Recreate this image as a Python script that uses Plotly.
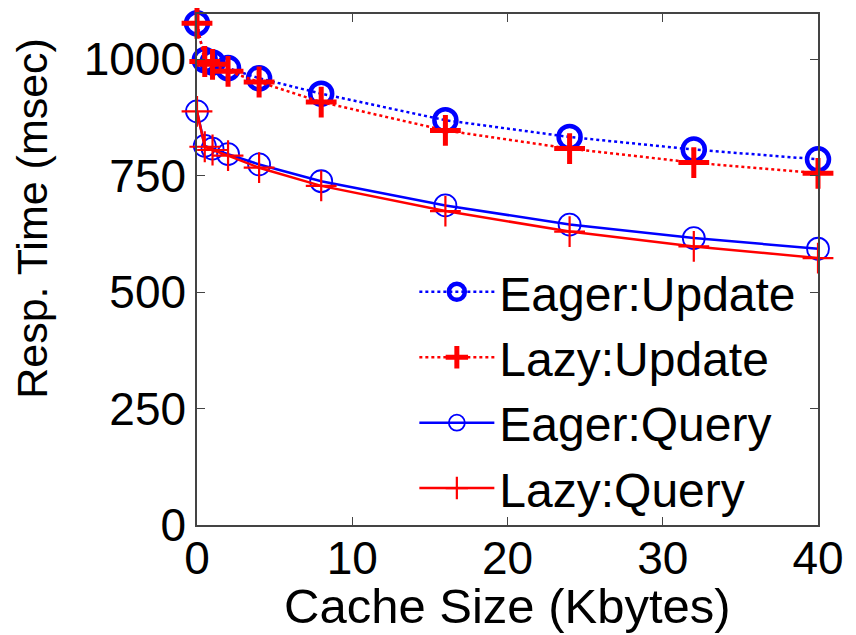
import plotly.graph_objects as go

cache_kb = [0, 0.5, 1, 2, 4, 8, 16, 24, 32, 40]
eager_update = [1077, 998, 993, 981, 959, 926, 869, 833, 806, 785]
lazy_update = [1077, 995, 989, 974, 951, 908, 847, 808, 778, 755]
eager_query = [888, 814, 808, 796, 774, 738, 686, 645, 616, 593]
lazy_query = [888, 812, 805, 793, 767, 728, 674, 630, 598, 573]

x_ticks = [0, 10, 20, 30, 40]
y_ticks = [0, 250, 500, 750, 1000]

BLUE = "rgb(0,0,255)"
RED = "rgb(255,0,0)"
FONT = "Liberation Sans, Arial, sans-serif"

fig = go.Figure()
fig.add_trace(go.Scatter(
    x=cache_kb, y=eager_update, name="Eager:Update", mode="lines+markers", cliponaxis=False,
    line=dict(color=BLUE, width=2.5, dash="dot"),
    marker=dict(symbol="circle-open", size=22, color=BLUE, line=dict(width=4.5, color=BLUE)),
))
fig.add_trace(go.Scatter(
    x=cache_kb, y=lazy_update, name="Lazy:Update", mode="lines+markers", cliponaxis=False,
    line=dict(color=RED, width=2.5, dash="dot"),
    marker=dict(symbol="cross-thin-open", size=22, color=RED, line=dict(width=5, color=RED)),
))
fig.add_trace(go.Scatter(
    x=cache_kb, y=eager_query, name="Eager:Query", mode="lines+markers", cliponaxis=False,
    line=dict(color=BLUE, width=2.5),
    marker=dict(symbol="circle-open", size=22, color=BLUE, line=dict(width=1.8, color=BLUE)),
))
fig.add_trace(go.Scatter(
    x=cache_kb, y=lazy_query, name="Lazy:Query", mode="lines+markers", cliponaxis=False,
    line=dict(color=RED, width=2.5),
    marker=dict(symbol="cross-thin-open", size=22, color=RED, line=dict(width=2.2, color=RED)),
))

axis_common = dict(
    showline=True, linecolor="#444", linewidth=1.5, mirror="ticks",
    ticks="inside", ticklen=8, tickcolor="#444", showgrid=False, zeroline=False,
    tickfont=dict(family=FONT, size=46, color="black"),
)

fig.update_layout(
    width=856, height=635,
    margin=dict(l=197, r=30, t=12, b=110),
    paper_bgcolor="white", plot_bgcolor="white",
    font=dict(family=FONT, color="black"),
    xaxis=dict(range=[0, 40], tickvals=x_ticks, ticktext=[str(v) for v in x_ticks],
               ticklabelstandoff=-8, **axis_common),
    yaxis=dict(range=[0, 1097], tickvals=y_ticks, ticktext=[str(v) for v in y_ticks],
               **axis_common),
    legend=dict(x=0.35, y=0.53, xanchor="left", yanchor="top",
                bgcolor="rgba(0,0,0,0)", borderwidth=0,
                font=dict(family=FONT, size=48, color="black"),
                itemwidth=75, tracegroupgap=0),
    showlegend=True,
    annotations=[
        dict(text="Cache Size (Kbytes)", xref="paper", yref="paper",
             x=0.5, y=-0.158, xanchor="center", yanchor="middle", showarrow=False,
             font=dict(family=FONT, size=49, color="black")),
        dict(text="Resp. Time (msec)", xref="paper", yref="paper", textangle=-90,
             x=-0.265, y=0.6, xanchor="center", yanchor="middle", showarrow=False,
             font=dict(family=FONT, size=43, color="black")),
    ],
)

fig.write_html("out.html")
